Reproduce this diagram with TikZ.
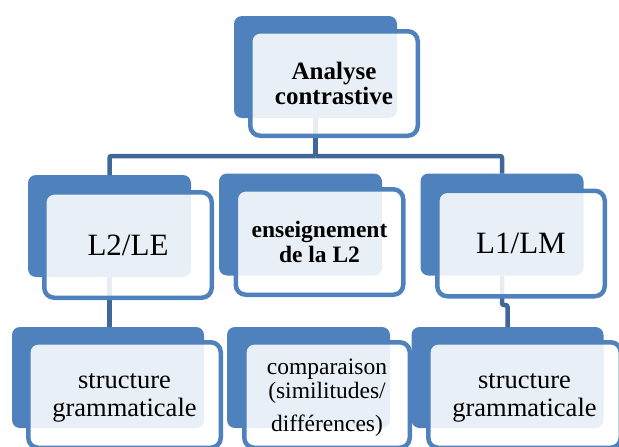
\documentclass[tikz,border=0pt]{standalone}
\usepackage{fontspec}
\setmainfont{Liberation Serif}
\usepackage{xcolor}
\usetikzlibrary{positioning}

\definecolor{boxblue}{HTML}{4F81BD}
\definecolor{linkblue}{HTML}{3F6797}

\begin{document}
\begin{tikzpicture}[
    x=1pt, y=-1pt,
    backbox/.style={
      fill=boxblue, rounded corners=8pt,
      inner sep=0pt, outer sep=0pt,
      minimum width=163pt, minimum height=102pt
    },
    frontbox/.style={
      draw=boxblue, line width=4.5pt, rounded corners=10pt,
      fill=white, fill opacity=0.88, text opacity=1,
      align=center, inner sep=0pt, outer sep=0pt,
      minimum width=167.5pt, minimum height=105.5pt
    },
    wide/.style={minimum width=192pt},
    link/.style={draw=linkblue, line width=4.5pt, rounded corners=2pt}
]
\useasboundingbox (0,0) rectangle (619,447);

% --- Back panels ---
\node[backbox] (topback) at (315.5,67) {};
\node[backbox] (leback) at (109.5,226) {};
\node[backbox] (ensback) at (300.5,224.5) {};
\node[backbox] (lmback) at (502,224.5) {};
\node[backbox, wide, minimum height=101pt] (structleback) at (108,377.5) {};
\node[backbox, minimum height=101pt] (compback) at (308.5,377.5) {};
\node[backbox, wide, minimum height=101pt] (structlmback) at (507.5,377.5) {};

% --- Links (behind the front panels) ---
\coordinate (fork) at (315.5,156);
\coordinate (lmturn) at (502,305);
\draw[link] (topback.south) -- (fork);
\draw[link] (fork) -| (leback.north);
\draw[link] (fork) -| (lmback.north);
\draw[link] (leback.south) -- (leback.south |- structleback.north);
\draw[link] (lmback.south) -- (lmturn) -| (structlmback.north);

% --- Top row ---
\node[frontbox, minimum height=104.5pt,
  font=\fontsize{25}{25}\selectfont\bfseries] (top) at (334,83.5)
  {Analyse\\contrastive};

% --- Middle row ---
\node[frontbox, font=\fontsize{31}{31}\selectfont] (le) at (128,245) {L2/LE};
\node[frontbox, font=\fontsize{23.5}{25}\selectfont\bfseries] (ens) at (319.5,242)
  {enseignement\\de la L2};
\node[frontbox, font=\fontsize{31}{31}\selectfont] (lm) at (521,243.5) {L1/LM};

% --- Bottom row ---
\node[frontbox, minimum width=192.5pt, text depth=0pt,
  font=\fontsize{26.5}{28}\selectfont] (structle) at (124.5,395)
  {structure\\grammaticale};
\node[frontbox, minimum width=165.5pt, text depth=0pt,
  font=\fontsize{23.5}{24}\selectfont] (comp) at (327,395)
  {comparaison\\(similitudes/\\[9pt]diff\'erences)};
\node[frontbox, minimum width=192.5pt, text depth=0pt,
  font=\fontsize{26.5}{28}\selectfont] (structlm) at (524.5,395)
  {structure\\grammaticale};

\end{tikzpicture}
\end{document}
